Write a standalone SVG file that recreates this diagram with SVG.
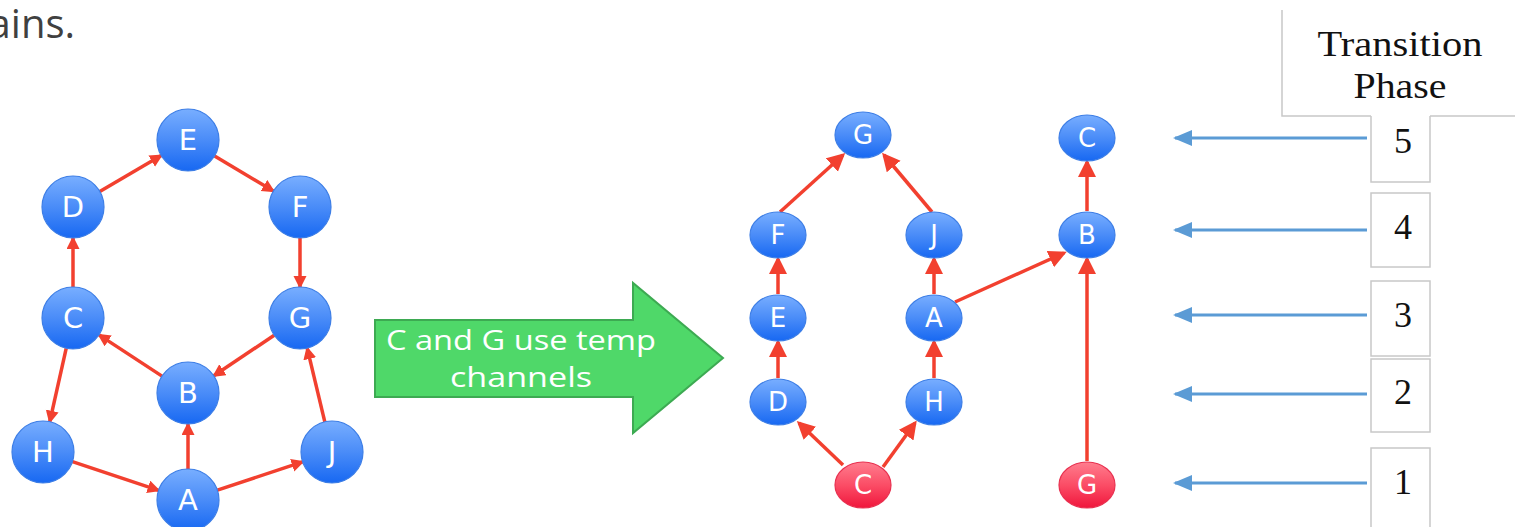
<svg xmlns="http://www.w3.org/2000/svg" width="1515" height="527" viewBox="0 0 1515 527">
<defs>
<linearGradient id="gBlue" x1="0" y1="0" x2="0" y2="1">
<stop offset="0" stop-color="#78aeff"/>
<stop offset="0.5" stop-color="#4a8cf8"/>
<stop offset="1" stop-color="#1768f2"/>
</linearGradient>
<linearGradient id="gRed" x1="0" y1="0" x2="0" y2="1">
<stop offset="0" stop-color="#ff7d8e"/>
<stop offset="0.5" stop-color="#fb4d66"/>
<stop offset="1" stop-color="#f0163c"/>
</linearGradient>
<marker id="arrL" markerUnits="userSpaceOnUse" markerWidth="14" markerHeight="14" refX="11" refY="6.5" orient="auto">
<path d="M0,0 L13,6.5 L0,13 z" fill="#f2402f"/>
</marker>
<marker id="arrR" markerUnits="userSpaceOnUse" markerWidth="19" markerHeight="19" refX="15" refY="9" orient="auto">
<path d="M0,0 L18,9 L0,18 z" fill="#f2402f"/>
</marker>
<marker id="arrB" markerUnits="userSpaceOnUse" markerWidth="20" markerHeight="18" refX="17" refY="8" orient="auto">
<path d="M0,0 L19,8 L0,16 z" fill="#5b9bd5"/>
</marker>
<style>
.nb{fill:url(#gBlue);stroke:#3d7ee6;stroke-width:1.2}
.nr{fill:url(#gRed);stroke:#e8304f;stroke-width:1.2}
.lbl{font-family:"DejaVu Sans","Liberation Sans",sans-serif;fill:#ffffff;text-anchor:middle}
.lbL{font-size:29px}
.lbR{font-size:26px}
.eL{stroke:#f2402f;stroke-width:3.5;fill:none;marker-end:url(#arrL)}
.eR{stroke:#f2402f;stroke-width:3.5;fill:none;marker-end:url(#arrR)}
.ph{stroke:#5b9bd5;stroke-width:3;fill:none;marker-end:url(#arrB)}
.tb{stroke:#c8c8c8;stroke-width:1.5;fill:none}
.num{font-family:"Liberation Serif","DejaVu Serif",serif;font-size:36px;fill:#111;text-anchor:middle}
</style>
</defs>
<rect width="1515" height="527" fill="#ffffff"/>
<text x="75" y="38" text-anchor="end" font-family="'Open Sans','Liberation Sans',sans-serif" font-size="40" fill="#404040">ains.</text>

<g id="connectors">
<line class="eL" x1="99.8" y1="191.4" x2="161.2" y2="155.6"/>
<line class="eL" x1="214.6" y1="155.9" x2="273.4" y2="191.1"/>
<line class="eL" x1="300" y1="238" x2="300" y2="287"/>
<line class="eL" x1="73" y1="287" x2="73" y2="238"/>
<line class="eL" x1="162" y1="376.1" x2="99" y2="334.9"/>
<line class="eL" x1="274.2" y1="335.2" x2="213.8" y2="375.8"/>
<line class="eL" x1="66.2" y1="348.3" x2="49.8" y2="421.7"/>
<line class="eL" x1="324.8" y1="421.9" x2="307.2" y2="348.1"/>
<line class="eL" x1="72.4" y1="461.7" x2="158.6" y2="490.3"/>
<line class="eL" x1="217.4" y1="490.2" x2="302.6" y2="461.8"/>
<line class="eL" x1="188" y1="469" x2="188" y2="424"/>

<line class="eR" x1="780" y1="212" x2="843" y2="155"/>
<line class="eR" x1="932" y1="212" x2="884" y2="155"/>
<line class="eR" x1="778" y1="294" x2="778" y2="259"/>
<line class="eR" x1="778" y1="378" x2="778" y2="342"/>
<line class="eR" x1="934" y1="294" x2="934" y2="259"/>
<line class="eR" x1="934" y1="378" x2="934" y2="342"/>
<line class="eR" x1="843" y1="465" x2="799" y2="423"/>
<line class="eR" x1="883" y1="467" x2="915" y2="423"/>
<line class="eR" x1="955" y1="302" x2="1064" y2="253"/>
<line class="eR" x1="1087" y1="461" x2="1087" y2="259"/>
<line class="eR" x1="1087" y1="211" x2="1087" y2="162"/>

<line class="ph" x1="1367" y1="138" x2="1175" y2="138"/>
<line class="ph" x1="1367" y1="230" x2="1175" y2="230"/>
<line class="ph" x1="1367" y1="315" x2="1175" y2="315"/>
<line class="ph" x1="1367" y1="394" x2="1175" y2="394"/>
<line class="ph" x1="1367" y1="483" x2="1175" y2="483"/>
</g>

<g id="left-graph">
<g id="L-E"><circle class="nb" cx="188" cy="140" r="31"/><text class="lbl lbL" x="188" y="150">E</text></g>
<g id="L-D"><circle class="nb" cx="73" cy="207" r="31"/><text class="lbl lbL" x="73" y="217">D</text></g>
<g id="L-F"><circle class="nb" cx="300" cy="207" r="31"/><text class="lbl lbL" x="300" y="217">F</text></g>
<g id="L-C"><circle class="nb" cx="73" cy="318" r="31"/><text class="lbl lbL" x="73" y="328">C</text></g>
<g id="L-G"><circle class="nb" cx="300" cy="318" r="31"/><text class="lbl lbL" x="300" y="328">G</text></g>
<g id="L-B"><circle class="nb" cx="188" cy="393" r="31"/><text class="lbl lbL" x="188" y="403">B</text></g>
<g id="L-H"><circle class="nb" cx="43" cy="452" r="31"/><text class="lbl lbL" x="43" y="462">H</text></g>
<g id="L-J"><circle class="nb" cx="332" cy="452" r="31"/><text class="lbl lbL" x="332" y="462">J</text></g>
<g id="L-A"><circle class="nb" cx="188" cy="500" r="31"/><text class="lbl lbL" x="188" y="510">A</text></g>
</g>

<g id="transition-arrow">
<polygon points="375,320 633,320 633,283 723,358 633,433 633,397 375,397" fill="#4fd869" stroke="#3daa52" stroke-width="2"/>
<text x="521" y="350" font-family="'Open Sans','Liberation Sans',sans-serif" font-size="27" fill="#ffffff" text-anchor="middle" textLength="270" lengthAdjust="spacingAndGlyphs">C and G use temp</text>
<text x="521" y="387" font-family="'Open Sans','Liberation Sans',sans-serif" font-size="27" fill="#ffffff" text-anchor="middle" textLength="142" lengthAdjust="spacingAndGlyphs">channels</text>
</g>

<g id="right-graph">
<g id="R-G"><ellipse class="nb" cx="863" cy="135" rx="28" ry="23"/><text class="lbl lbR" x="863" y="144">G</text></g>
<g id="R-C"><ellipse class="nb" cx="1087" cy="138" rx="28" ry="23"/><text class="lbl lbR" x="1087" y="147">C</text></g>
<g id="R-F"><ellipse class="nb" cx="778" cy="235" rx="28" ry="23"/><text class="lbl lbR" x="778" y="244">F</text></g>
<g id="R-J"><ellipse class="nb" cx="934" cy="235" rx="28" ry="23"/><text class="lbl lbR" x="934" y="244">J</text></g>
<g id="R-B"><ellipse class="nb" cx="1087" cy="235" rx="28" ry="23"/><text class="lbl lbR" x="1087" y="244">B</text></g>
<g id="R-E"><ellipse class="nb" cx="778" cy="318" rx="28" ry="23"/><text class="lbl lbR" x="778" y="327">E</text></g>
<g id="R-A"><ellipse class="nb" cx="934" cy="318" rx="28" ry="23"/><text class="lbl lbR" x="934" y="327">A</text></g>
<g id="R-D"><ellipse class="nb" cx="778" cy="402" rx="28" ry="23"/><text class="lbl lbR" x="778" y="411">D</text></g>
<g id="R-H"><ellipse class="nb" cx="934" cy="402" rx="28" ry="23"/><text class="lbl lbR" x="934" y="411">H</text></g>
<g id="R-Cred"><ellipse class="nr" cx="863" cy="485" rx="28" ry="23"/><text class="lbl lbR" x="863" y="494">C</text></g>
<g id="R-Gred"><ellipse class="nr" cx="1087" cy="485" rx="28" ry="23"/><text class="lbl lbR" x="1087" y="494">G</text></g>
</g>

<g id="phase-table">
<path class="tb" d="M1282,10 V116 H1371 M1430,116 H1515"/>
<text class="num" x="1400" y="56" font-size="36" textLength="165" lengthAdjust="spacingAndGlyphs">Transition</text>
<text class="num" x="1400" y="98" font-size="36" textLength="93" lengthAdjust="spacingAndGlyphs">Phase</text>
<g id="phase5"><path class="tb" d="M1371,116 V182 H1430 V116"/><text class="num" x="1403" y="153">5</text></g>
<g id="phase4"><rect class="tb" x="1371" y="193" width="59" height="74"/><text class="num" x="1403" y="239">4</text></g>
<g id="phase3"><rect class="tb" x="1371" y="281" width="59" height="75"/><text class="num" x="1403" y="327">3</text></g>
<g id="phase2"><rect class="tb" x="1371" y="359" width="59" height="73"/><text class="num" x="1403" y="404">2</text></g>
<g id="phase1"><path class="tb" d="M1371,527 V448 H1430 V527"/><text class="num" x="1403" y="494">1</text></g>
</g>
</svg>
